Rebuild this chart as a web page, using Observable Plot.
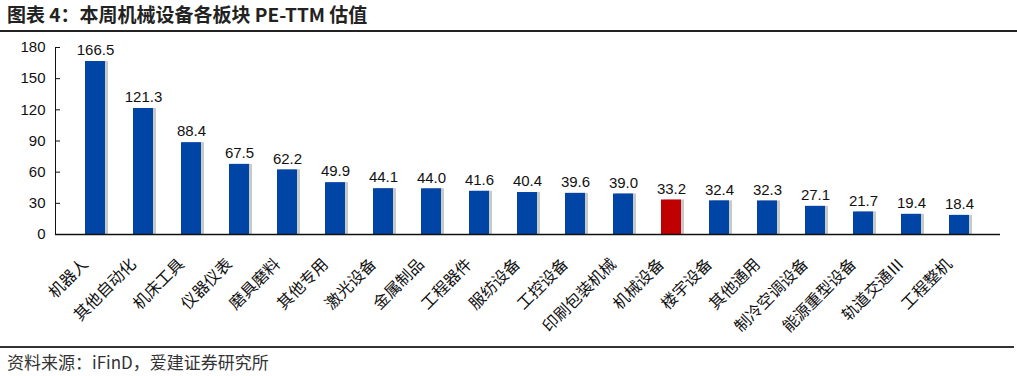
<!DOCTYPE html>
<html><head><meta charset="utf-8">
<script src="https://cdn.jsdelivr.net/npm/d3@7"></script>
<script src="https://cdn.jsdelivr.net/npm/@observablehq/plot@0.6"></script>
<style>
body{margin:0;background:#fff;width:1017px;overflow:hidden;}
#title{height:30px;border-bottom:2px solid #222;font-family:"Noto Sans CJK SC","Noto Sans",sans-serif;font-weight:bold;font-size:19px;line-height:28px;padding-left:7px;color:#222;box-sizing:content-box;}
#chart{height:313px;margin-top:1px;}
#src{border-top:2px solid #333;font-family:"Noto Sans CJK SC",sans-serif;font-size:17px;color:#333;padding-left:7px;line-height:27px;margin-right:3px;}
</style></head>
<body>
<div id="title">图表 4：本周机械设备各板块 PE-TTM 估值</div>
<div id="chart"></div>
<div id="src">资料来源：iFinD，爱建证券研究所</div>
<script>
const categories = ["机器人","其他自动化","机床工具","仪器仪表","磨具磨料","其他专用","激光设备","金属制品","工程器件","服纺设备","工控设备","印刷包装机械","机械设备","楼宇设备","其他通用","制冷空调设备","能源重型设备","轨道交通Ⅲ","工程整机"];
const values = [166.5,121.3,88.4,67.5,62.2,49.9,44.1,44.0,41.6,40.4,39.6,39.0,33.2,32.4,32.3,27.1,21.7,19.4,18.4];
const highlight = "机械设备";
const yTicks = [0,30,60,90,120,150,180];

const data = categories.map((c,i)=>({cat:c, v:values[i]}));
const chart = Plot.plot({
  width:1017, height:313,
  marginTop:14, marginBottom:112, marginLeft:55, marginRight:17,
  style:{fontFamily:"'Noto Sans CJK SC',sans-serif", color:"#111", background:"#fff"},
  x:{domain:categories, padding:0.58, label:null},
  y:{domain:[0,180], label:null},
  marks:[
    Plot.barY(data,{x:"cat", y:"v", fill:"#888", fillOpacity:0.45, dx:3}),
    Plot.barY(data,{x:"cat", y:"v", fill:d=>d.cat===highlight?"#C00000":"#0044A6"}),
    Plot.text(data,{x:"cat", y:"v", text:d=>d.v.toFixed(1), dy:-11, fontSize:15, fill:"#111", fontFamily:"'Liberation Sans',Arial,sans-serif"}),
    Plot.axisY(yTicks,{tickSize:0, tickPadding:10, fontSize:15, fontFamily:"'Liberation Sans',Arial,sans-serif", fill:"#111"}),
    Plot.tickY(yTicks,{y:d=>d, stroke:"#111", insetRight:940}),
    Plot.axisX({tickSize:0, tickPadding:16, tickRotate:-45, fontSize:16, fill:"#111", dx:-10, dy:11}),
    Plot.frame({anchor:"left", stroke:"#111"}),
    Plot.ruleY([0],{stroke:"#111", strokeWidth:1.5})
  ]
});
document.getElementById("chart").appendChild(chart);
</script>
</body></html>
